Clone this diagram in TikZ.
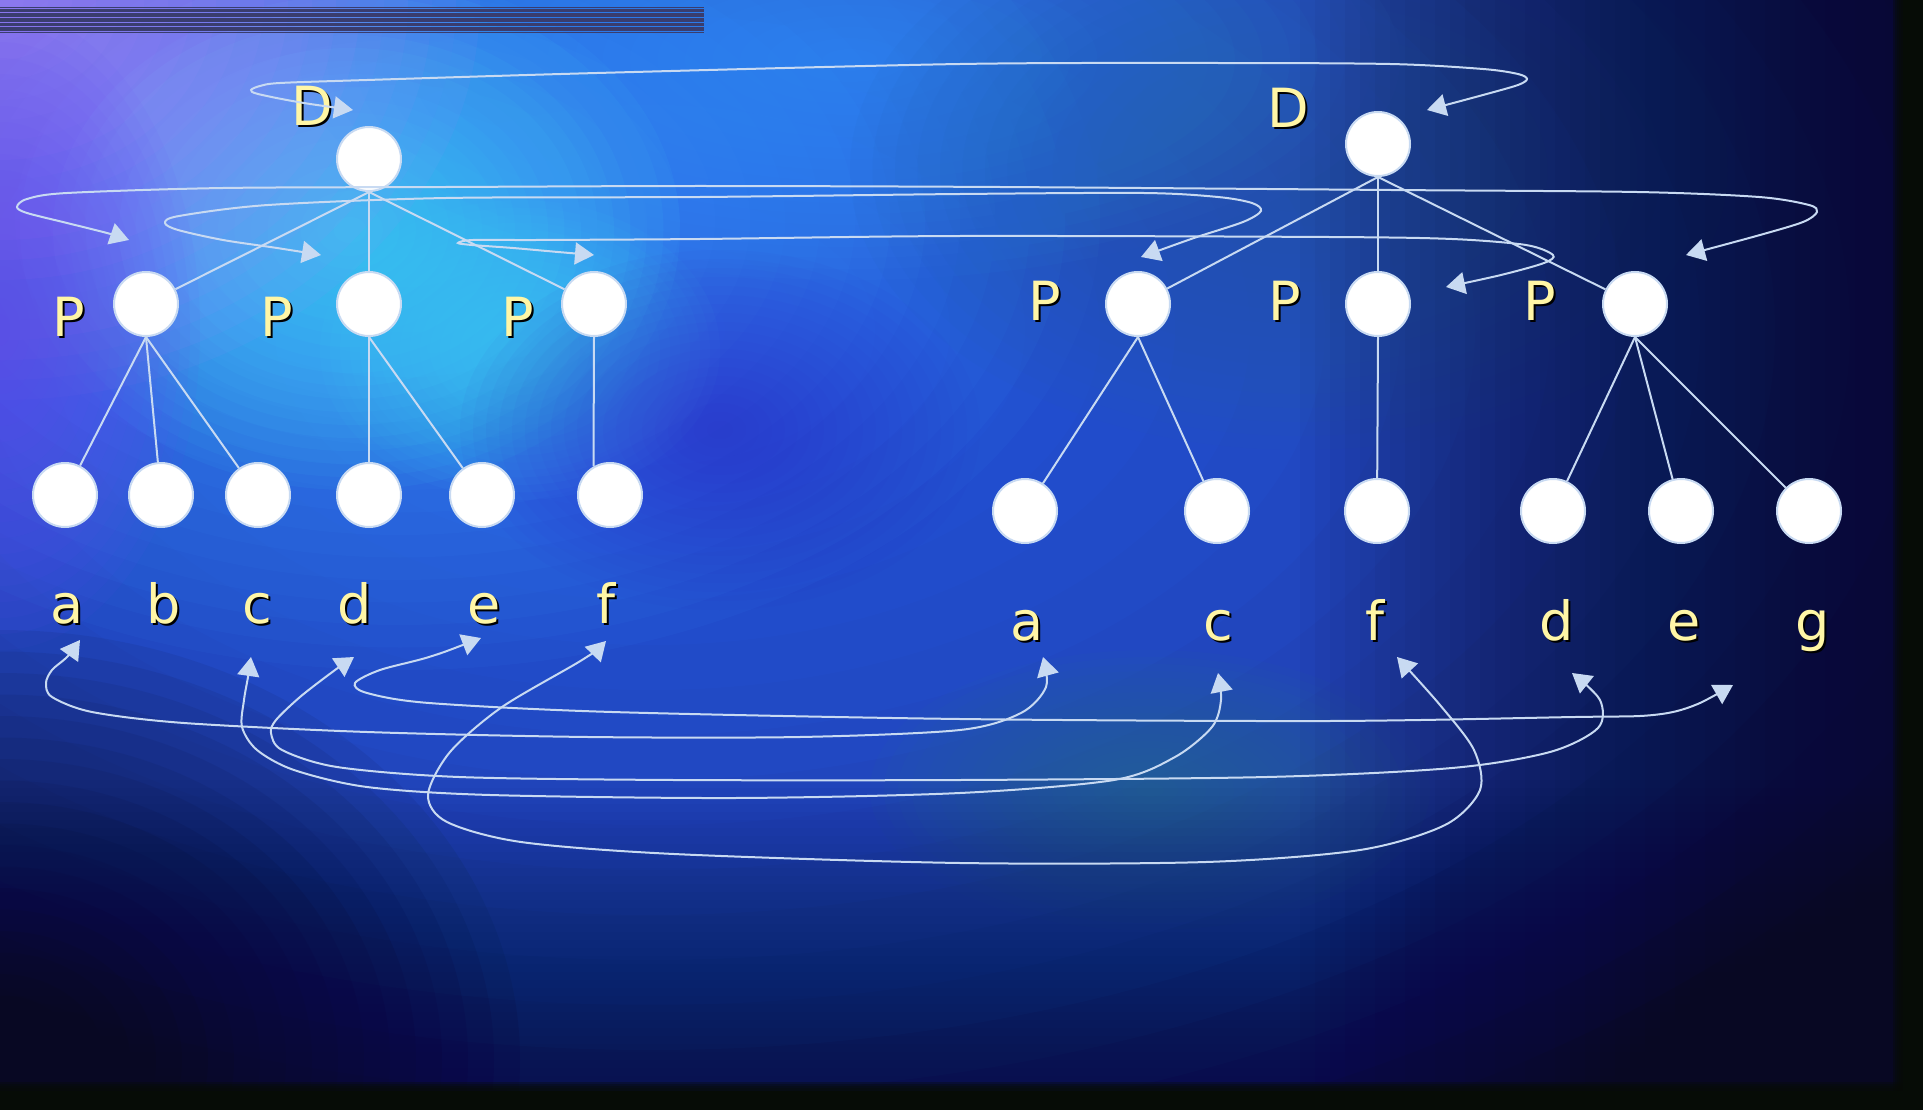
\documentclass[tikz,border=0pt]{standalone}
\usepackage{fontspec}
\setmainfont{DejaVu Sans}
\usepackage{xcolor}
\usetikzlibrary{arrows.meta}

\definecolor{wire}{RGB}{200,218,242}
\definecolor{ink}{RGB}{255,246,166}
\definecolor{bar}{RGB}{58,61,110}
\definecolor{sky0}{RGB}{26,42,132}
\definecolor{skyA}{RGB}{45,98,242}
\definecolor{skyB}{RGB}{62,152,255}
\definecolor{skyC}{RGB}{70,225,255}
\definecolor{lila}{RGB}{175,135,255}
\definecolor{vio}{RGB}{105,75,245}
\definecolor{deep}{RGB}{55,40,200}
\definecolor{teal0}{RGB}{35,95,170}
\definecolor{teal1}{RGB}{35,115,145}
\definecolor{night}{RGB}{8,8,35}
\definecolor{rim}{RGB}{6,12,6}

\newcommand\shd[1]{\makebox[0pt][l]{\hspace{2pt}\raisebox{-2pt}{\color{black}#1}}#1}

\begin{document}
\begin{tikzpicture}[x=1pt, y=-1pt,
  nd/.style={circle, fill=white, draw=wire, line width=2pt, minimum size=64pt, inner sep=0pt},
  lbl/.style={anchor=base, inner sep=0pt, text=ink, font=\fontsize{54}{60}\selectfont},
  br/.style={draw=wire, line width=2pt},
  arr/.style={draw=wire, line width=2pt, {Triangle[length=19pt,width=22pt]}-{Triangle[length=19pt,width=22pt]}}]
\useasboundingbox (0,0) rectangle (1923,1110);

% sky: stacked see-through ellipses
\fill[sky0] (0,0) rectangle (1923,1110);
\foreach \c/\x/\y/\rx/\ry/\o in {skyA/650/330/1500/900/.08, skyB/400/220/700/450/.06,
    skyC/350/230/330/260/.06, skyC/520/350/200/150/.04, lila/0/0/480/400/.07,
    vio/0/330/200/320/.06, skyB/850/60/550/220/.05, deep/720/430/260/180/.04,
    teal0/1300/170/450/280/.06, teal1/1150/790/280/140/.05, night/0/1060/520/430/.07}
  \foreach \k in {20,19,...,1}
    \fill[\c, opacity=\o] (\x,\y) ellipse ({\rx/20*\k} and {\ry/20*\k});
\foreach \k in {0,...,39}
  \fill[night, opacity=.035] ({1300+\k*15},0) rectangle (1923,1110);
\foreach \k in {0,...,39}
  \fill[night, opacity=.018] (0,{780+\k*8}) rectangle (1923,1110);
\foreach \k in {0,...,4}
  \fill[rim, opacity=.35] ({1893+\k*2},0) rectangle (1923,1110);
\fill[rim] (1903,0) rectangle (1923,1110);
\foreach \k in {0,...,3}
  \fill[rim, opacity=.35] (0,{1082+\k*2}) rectangle (1923,1110);
\fill[rim] (0,1091) rectangle (1923,1110);
\foreach \a/\b in {6.6/7.6, 8.6/12, 13/16.8, 18/21.8, 23/26.3, 27.3/31.2, 32.2/33.3}
  \fill[bar] (0,\a) rectangle (704,\b);

% left tree
\node[nd] (D1) at (369,159) {};
\node[nd] (P11) at (146,304) {};
\node[nd] (P12) at (369,304) {};
\node[nd] (P13) at (594,304) {};
\foreach \x [count=\i] in {65,161,258,369,482,610}
  \node[nd] (l1\i) at (\x,495) {};

% right tree
\node[nd] (D2) at (1378,144) {};
\node[nd] (P21) at (1138,304) {};
\node[nd] (P22) at (1378,304) {};
\node[nd] (P23) at (1635,304) {};
\foreach \x [count=\i] in {1025,1217,1377,1553,1681,1809}
  \node[nd] (l2\i) at (\x,511) {};

\foreach \p/\c in {D1/P11,D1/P12,D1/P13,P11/l11,P11/l12,P11/l13,P12/l14,P12/l15,
                   D2/P21,D2/P22,D2/P23,P21/l21,P21/l22,P22/l23,P23/l24,P23/l25,P23/l26}
  \draw[br] (\p.south) -- (\c);
\draw[br] (P13.south) -- (l16.120);

% labels
\node[lbl] (tD1) at (312,126) {\shd{D}};
\node[lbl] (tD2) at (1288,128) {\shd{D}};
\foreach \x [count=\i] in {69,277,518}
  \node[lbl] (tP1\i) at (\x,336) {\shd{P}};
\foreach \x [count=\i] in {1045,1285,1540}
  \node[lbl] (tP2\i) at (\x,320) {\shd{P}};
\foreach \t/\x in {a/67,b/164,c/257,d/355,e/484,f/606}
  \node[lbl] (t1\t) at (\x,623) {\shd{\t}};
\foreach \t/\x in {a/1027,c/1218,f/1375,d/1557,e/1684,g/1813}
  \node[lbl] (t2\t) at (\x,640) {\shd{\t}};

% arrow ends
\coordinate (dL) at (353,110);  \coordinate (dR) at (1427,110);
\coordinate (pA1) at (129,240); \coordinate (pA2) at (1686,255);
\coordinate (pB1) at (321,255); \coordinate (pB2) at (1141,257);
\coordinate (pC1) at (594,255); \coordinate (pC2) at (1446,287);
\coordinate (ka1) at (80,640);  \coordinate (ka2) at (1043,657);
\coordinate (kc1) at (251,657); \coordinate (kc2) at (1218,673);
\coordinate (kd1) at (354,657); \coordinate (kd2) at (1572,673);
\coordinate (ke1) at (481,638); \coordinate (ke2) at (1733,685);
\coordinate (kf1) at (606,641); \coordinate (kf2) at (1397,657);

\draw[arr] plot[smooth] coordinates {(dL) (298,102) (258,94) (251,90) (260,86) (280,83) (367,80)
  (597,73) (960,64) (1206,63) (1390,64) (1483,69) (1518,74) (1527,79) (1518,85) (1483,95) (dR)};
\draw[arr] plot[smooth] coordinates {(pA1) (107,233) (67,223) (27,213) (17,207) (27,199) (67,193)
  (223,188) (446,187) (700,186) (1000,187) (1391,190) (1637,192) (1759,197) (1809,205) (1817,212)
  (1803,222) (1760,235) (pA2)};
\draw[arr] plot[smooth] coordinates {(pB1) (277,248) (223,240) (178,230) (165,223) (179,216)
  (268,205) (446,198) (700,197) (960,194) (1144,193) (1218,197) (1252,203) (1261,211) (1243,222)
  (1194,238) (pB2)};
\draw[arr] plot[smooth] coordinates {(pC1) (558,252) (513,248) (472,245) (458,243) (473,240)
  (536,240) (700,239) (960,236) (1329,237) (1452,239) (1526,245) (1553,255) (1544,263) (1501,275)
  (pC2)};
\draw[arr] plot[smooth] coordinates {(ka1) (67,657) (52,670) (46,683) (52,697) (92,712) (184,723)
  (367,732) (588,737) (800,737) (960,730) (1021,713) (1046,687) (ka2)};
\draw[arr] plot[smooth] coordinates {(kc1) (248,677) (244,700) (242,727) (257,750) (294,770)
  (367,787) (490,795) (735,798) (960,793) (1114,780) (1175,757) (1212,727) (1221,700) (kc2)};
\draw[arr] plot[smooth] coordinates {(kd1) (331,673) (300,697) (276,720) (271,733) (282,750)
  (337,767) (459,777) (674,780) (960,780) (1267,777) (1452,768) (1550,752) (1598,728) (1600,700)
  (kd2)};
\draw[arr] plot[smooth] coordinates {(ke1) (429,657) (380,670) (355,683) (367,693) (429,703)
  (612,712) (960,719) (1329,721) (1575,717) (1640,716) (1673,712) (1700,703) (ke2)};
\draw[arr] plot[smooth] coordinates {(kf1) (582,660) (502,707) (450,752) (428,795) (447,822)
  (521,842) (674,854) (960,863) (1206,862) (1360,850) (1445,825) (1480,790) (1474,750) (1440,705)
  (kf2)};
\end{tikzpicture}
\end{document}
